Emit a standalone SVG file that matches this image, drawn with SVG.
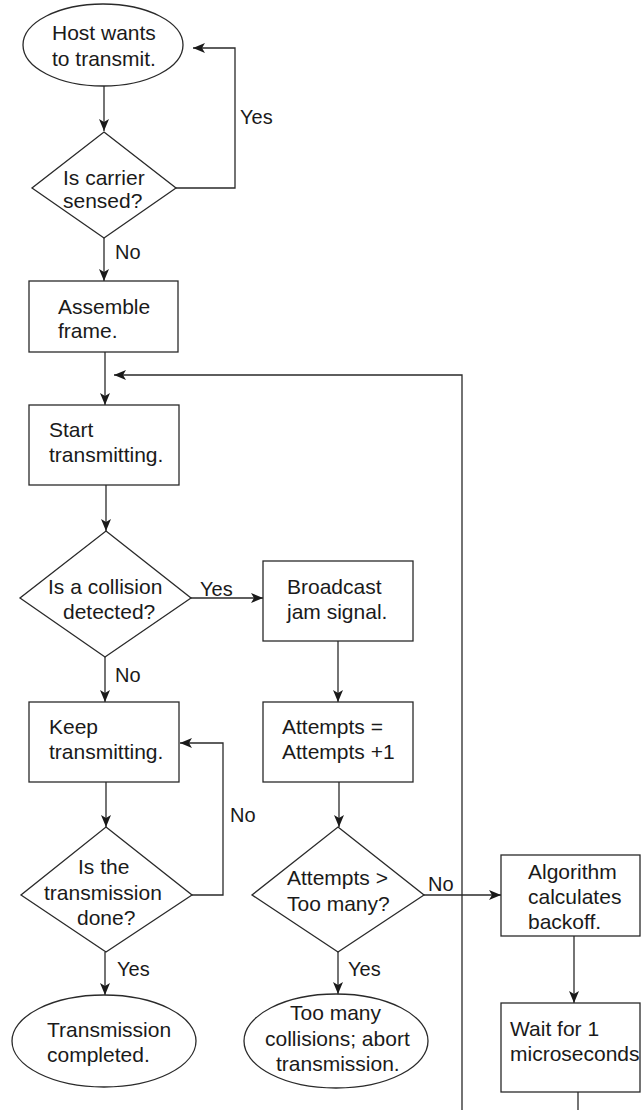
<svg xmlns="http://www.w3.org/2000/svg" width="641" height="1110" viewBox="0 0 641 1110">
<defs>
<marker id="ah" markerUnits="userSpaceOnUse" markerWidth="12" markerHeight="10" refX="12" refY="5" orient="auto">
<path d="M0,0 L12,5 L0,10 L3,5 Z" fill="#1a1a1a"/>
</marker>
<style>
.s{fill:#fff;stroke:#2a2a2a;stroke-width:1.3}
.c{fill:none;stroke:#2a2a2a;stroke-width:1.3}
.a{fill:none;stroke:#2a2a2a;stroke-width:1.3;marker-end:url(#ah)}
text{font-family:"Liberation Sans",Arial,sans-serif;font-size:21px;fill:#1a1a1a}
.l{font-size:20px}
.m{text-anchor:middle}
</style>
</defs>
<rect width="641" height="1110" fill="#fff"/>
<g id="connectors">
<line class="a" x1="104" y1="86" x2="104" y2="131"/>
<polyline class="a" points="176,188 235,188 235,48 193,48"/>
<line class="a" x1="104" y1="238" x2="104" y2="281"/>
<line class="a" x1="105" y1="352" x2="105" y2="405"/>
<polyline class="a" points="462,1110 462,375 114,375"/>
<line class="a" x1="106" y1="485" x2="106" y2="531"/>
<line class="a" x1="191" y1="598" x2="263" y2="598"/>
<line class="a" x1="105" y1="657" x2="105" y2="702"/>
<line class="a" x1="338" y1="641" x2="338" y2="702"/>
<line class="a" x1="106" y1="782" x2="106" y2="827"/>
<polyline class="a" points="192,895 223,895 223,743 180,743"/>
<line class="a" x1="105" y1="952" x2="105" y2="995"/>
<line class="a" x1="339" y1="782" x2="339" y2="827"/>
<line class="a" x1="424" y1="895" x2="501" y2="895"/>
<line class="a" x1="338" y1="952" x2="338" y2="994"/>
<line class="a" x1="574" y1="936" x2="574" y2="1003"/>
<line class="c" x1="578" y1="1092" x2="578" y2="1110"/>
<text class="l" x="240" y="124">Yes</text>
<text class="l" x="115" y="259">No</text>
<text class="l" x="200" y="596">Yes</text>
<text class="l" x="115" y="682">No</text>
<text class="l" x="230" y="822">No</text>
<text class="l" x="117" y="976">Yes</text>
<text class="l" x="428" y="891">No</text>
<text class="l" x="348" y="976">Yes</text>
</g>
<g id="host">
<ellipse class="s" cx="103" cy="45" rx="80" ry="41"/>
<text x="52" y="40">Host wants</text>
<text x="52" y="66">to transmit.</text>
</g>
<g id="carrier">
<polygon class="s" points="104,132 176,188 104,238 32,188"/>
<text x="63" y="185">Is carrier</text>
<text x="63" y="208">sensed?</text>
</g>
<g id="assemble">
<rect class="s" x="29" y="281" width="149" height="71"/>
<text x="58" y="314">Assemble</text>
<text x="58" y="338">frame.</text>
</g>
<g id="start">
<rect class="s" x="29" y="405" width="150" height="80"/>
<text x="49" y="437">Start</text>
<text x="49" y="462">transmitting.</text>
</g>
<g id="collision">
<polygon class="s" points="106,531 191,598 105,657 20,598"/>
<text x="48" y="594">Is a collision</text>
<text x="63" y="619">detected?</text>
</g>
<g id="broadcast">
<rect class="s" x="263" y="561" width="150" height="80"/>
<text x="287" y="594">Broadcast</text>
<text x="287" y="619">jam signal.</text>
</g>
<g id="keep">
<rect class="s" x="29" y="702" width="150" height="80"/>
<text x="49" y="734">Keep</text>
<text x="49" y="759">transmitting.</text>
</g>
<g id="attempts">
<rect class="s" x="263" y="702" width="150" height="80"/>
<text x="282" y="734">Attempts =</text>
<text x="282" y="759">Attempts +1</text>
</g>
<g id="done">
<polygon class="s" points="106,827 192,895 106,952 21,895"/>
<text x="78" y="874">Is the</text>
<text x="44" y="900">transmission</text>
<text x="77" y="925">done?</text>
</g>
<g id="toomany">
<polygon class="s" points="338,827 424,895 338,952 252,895"/>
<text x="287" y="885">Attempts &gt;</text>
<text x="287" y="911">Too many?</text>
</g>
<g id="completed">
<ellipse class="s" cx="104" cy="1041" rx="92" ry="46"/>
<text x="47" y="1037">Transmission</text>
<text x="47" y="1062">completed.</text>
</g>
<g id="abort">
<ellipse class="s" cx="336" cy="1041" rx="92" ry="47"/>
<text x="290" y="1020">Too many</text>
<text x="265" y="1046">collisions; abort</text>
<text x="276" y="1071">transmission.</text>
</g>
<g id="algorithm">
<rect class="s" x="501" y="855" width="139" height="81"/>
<text x="528" y="879">Algorithm</text>
<text x="528" y="904">calculates</text>
<text x="528" y="929">backoff.</text>
</g>
<g id="wait">
<rect class="s" x="501" y="1003" width="139" height="89"/>
<text x="510" y="1036">Wait for 1</text>
<text x="510" y="1061">microseconds</text>
</g>
</svg>
